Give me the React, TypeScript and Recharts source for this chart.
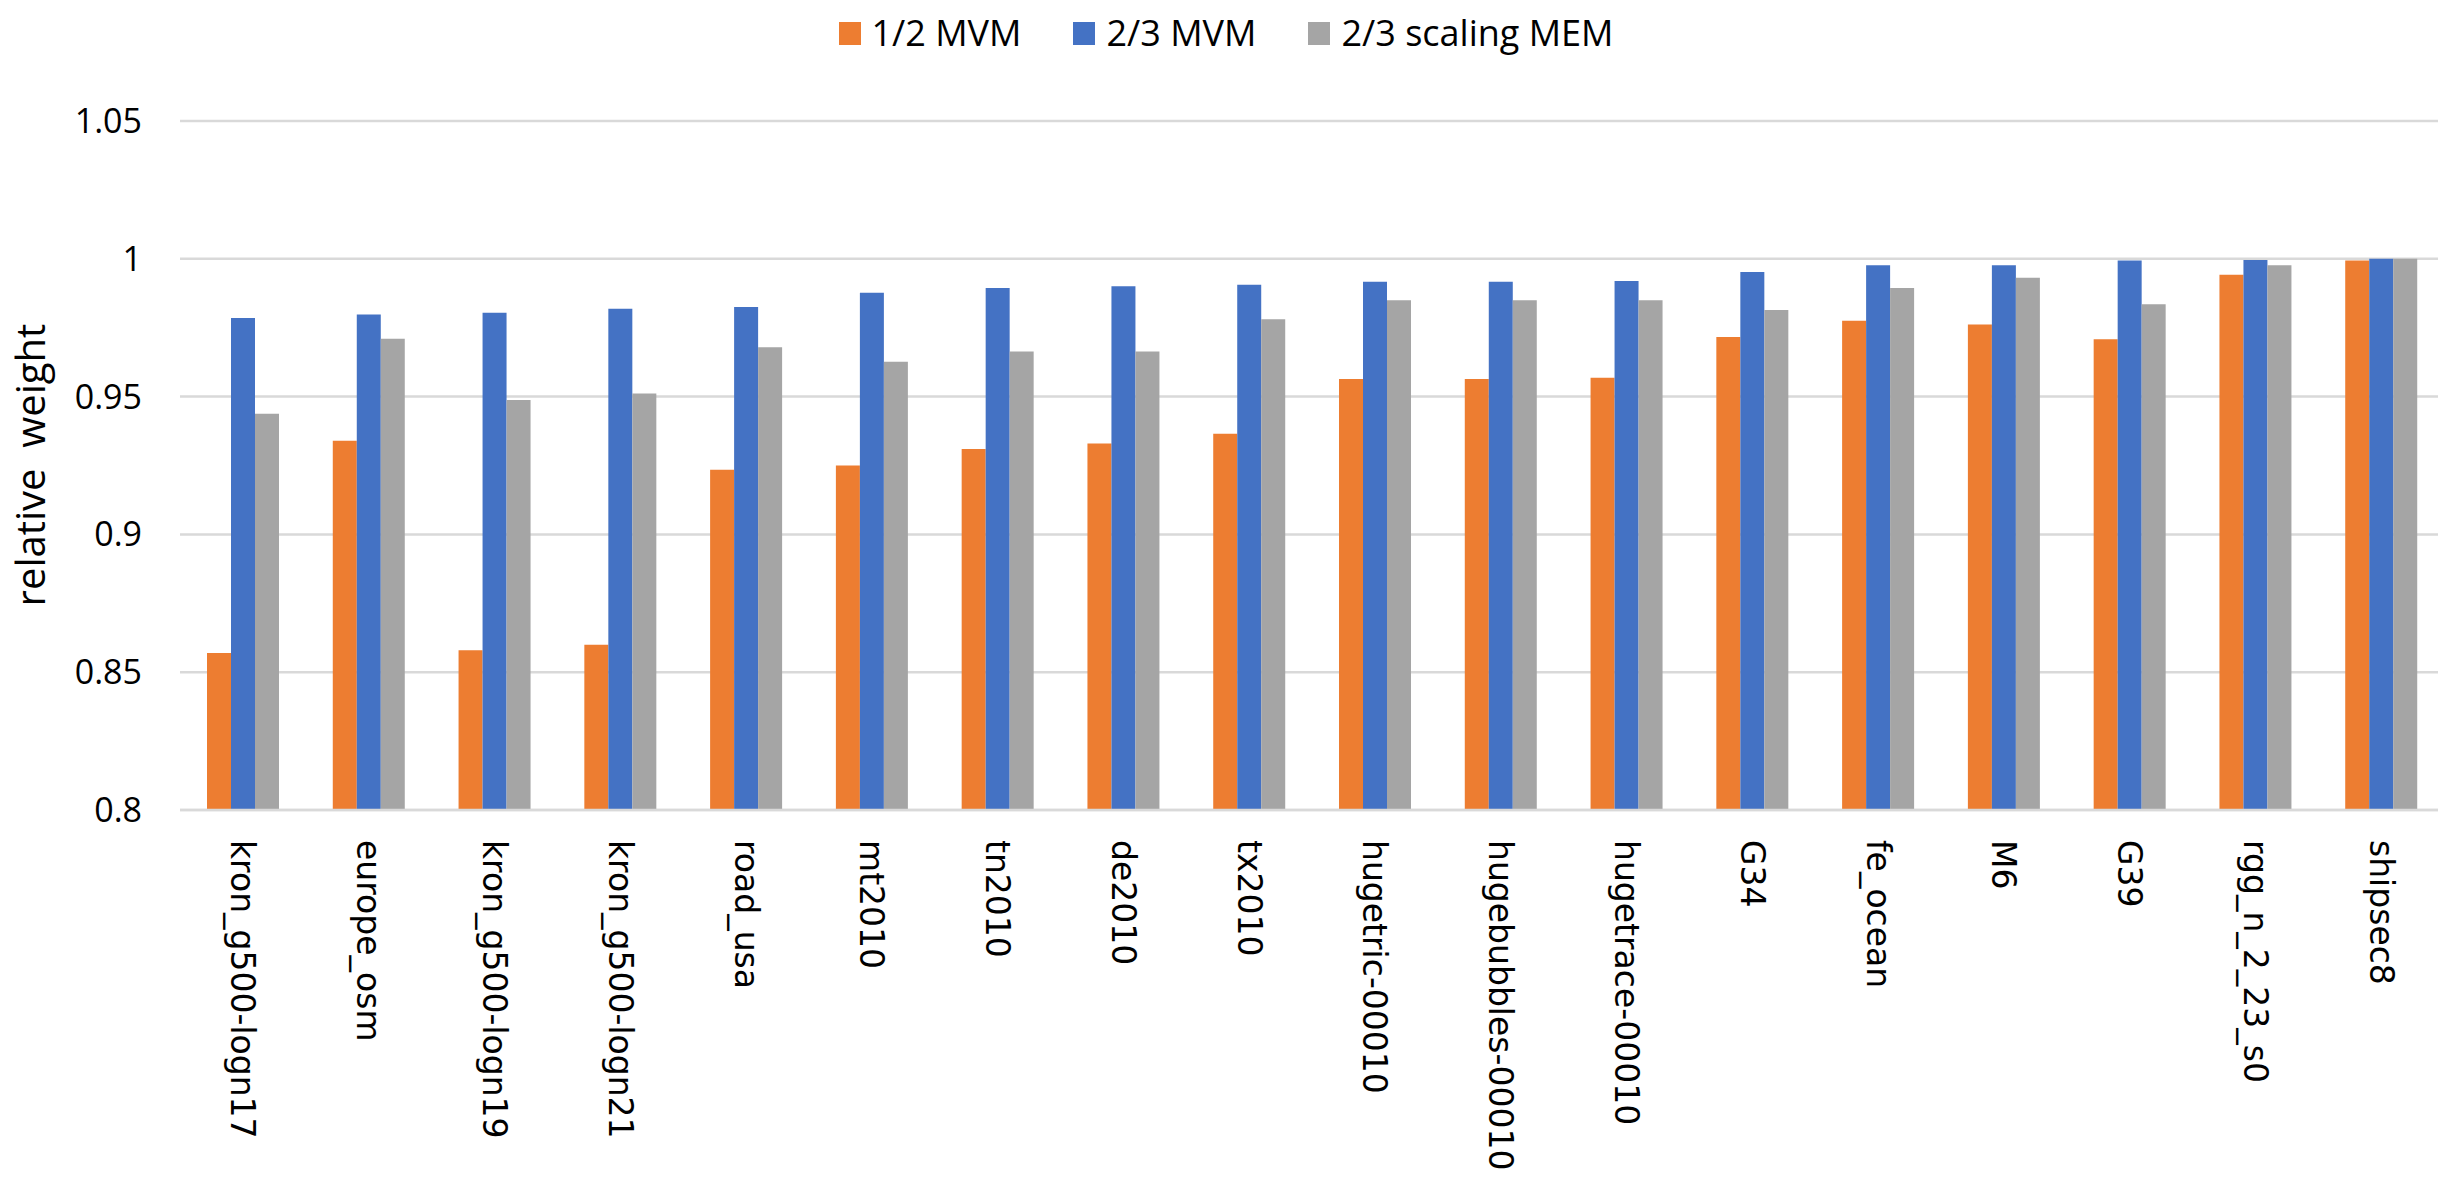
import React from "react";
import { BarChart, Bar, XAxis, YAxis, CartesianGrid } from "recharts";

const graphs = [
  "kron_g500-logn17", "europe_osm", "kron_g500-logn19", "kron_g500-logn21",
  "road_usa", "mt2010", "tn2010", "de2010", "tx2010", "hugetric-00010",
  "hugebubbles-00010", "hugetrace-00010", "G34", "fe_ocean", "M6", "G39",
  "rgg_n_2_23_s0", "shipsec8",
];

const halfMvm = [
  0.857, 0.934, 0.858, 0.860, 0.9235, 0.925, 0.931, 0.933, 0.9365, 0.9564,
  0.9564, 0.9568, 0.9716, 0.9775, 0.9762, 0.9708, 0.9942, 0.9994,
];
const twoThirdsMvm = [
  0.9785, 0.9798, 0.9804, 0.9819, 0.9825, 0.9877, 0.9894, 0.990, 0.9906, 0.9917,
  0.9917, 0.9919, 0.9952, 0.9977, 0.9977, 0.9994, 0.9996, 1.0,
];
const scalingMem = [
  0.9438, 0.971, 0.9488, 0.9511, 0.9679, 0.9626, 0.9664, 0.9664, 0.9781, 0.985,
  0.985, 0.985, 0.9814, 0.9894, 0.9931, 0.9835, 0.9977, 1.0,
];

const yTicks = [0.8, 0.85, 0.9, 0.95, 1, 1.05];
// the original has a wide gap between the two words
const yTitle = "relative\u00a0 weight";

const SERIES = [
  { key: "half", name: "1/2 MVM", color: "#ED7D31" },
  { key: "twoThirds", name: "2/3 MVM", color: "#4472C4" },
  { key: "mem", name: "2/3 scaling MEM", color: "#A5A5A5" },
];

const data = graphs.map((g, i) => ({
  graph: g,
  half: halfMvm[i],
  twoThirds: twoThirdsMvm[i],
  mem: scalingMem[i],
}));

const GRID = "#D9D9D9";

function GraphTick({ x, y, payload }: { x?: number; y?: number; payload?: { value: string } }) {
  return (
    <text
      transform={`translate(${x},${y}) rotate(90)`}
      textAnchor="start"
      dominantBaseline="central"
      fontFamily="'DejaVu Sans', sans-serif"
      fontSize={33}
      fill="#000"
    >
      {payload?.value}
    </text>
  );
}

export default function App() {
  return (
    <div style={{ position: "absolute", left: 0, top: 0, width: 2438, height: 1182, overflow: "hidden", background: "#fff" }}>
      {/* legend */}
      <div style={{
        position: "absolute", top: 8, left: 0, width: 2452, display: "flex",
        justifyContent: "center", gap: "52px", fontFamily: "'Open Sans', sans-serif",
        fontSize: "36px", color: "#000", lineHeight: "50px",
      }}>
        {SERIES.map(s => (
          <div key={s.key} style={{ display: "flex", alignItems: "center", gap: "11px" }}>
            <div style={{ width: 22, height: 23, background: s.color }} />
            <span>{s.name}</span>
          </div>
        ))}
      </div>

      {/* y axis title */}
      <svg width={100} height={1182} style={{ position: "absolute", left: 0, top: 0 }}>
        <text
          transform="translate(45,465) rotate(-90)"
          textAnchor="middle"
          fontFamily="'Open Sans', sans-serif"
          fontSize={40}
          fill="#000"
        >
          {yTitle}
        </text>
      </svg>

      <BarChart
        width={2446}
        height={1182}
        data={data}
        margin={{ top: 121, right: 2, left: 40, bottom: 12 }}
        barSize={24}
        barGap={0}
      >
        <CartesianGrid vertical={false} stroke={GRID} strokeWidth={2.5} />
        <XAxis
          dataKey="graph"
          interval={0}
          height={360}
          tickLine={false}
          tickSize={0}
          tickMargin={30}
          axisLine={{ stroke: GRID, strokeWidth: 2.5 }}
          tick={<GraphTick />}
        />
        <YAxis
          type="number"
          domain={[0.8, 1.05]}
          ticks={yTicks}
          allowDataOverflow
          width={140}
          axisLine={false}
          tickLine={false}
          tickSize={0}
          tickMargin={38}
          tick={{ fill: "#000", fontSize: 34, fontFamily: "'Open Sans', sans-serif" }}
        />
        {SERIES.map(s => (
          <Bar key={s.key} dataKey={s.key} name={s.name} fill={s.color} isAnimationActive={false} />
        ))}
      </BarChart>
    </div>
  );
}
